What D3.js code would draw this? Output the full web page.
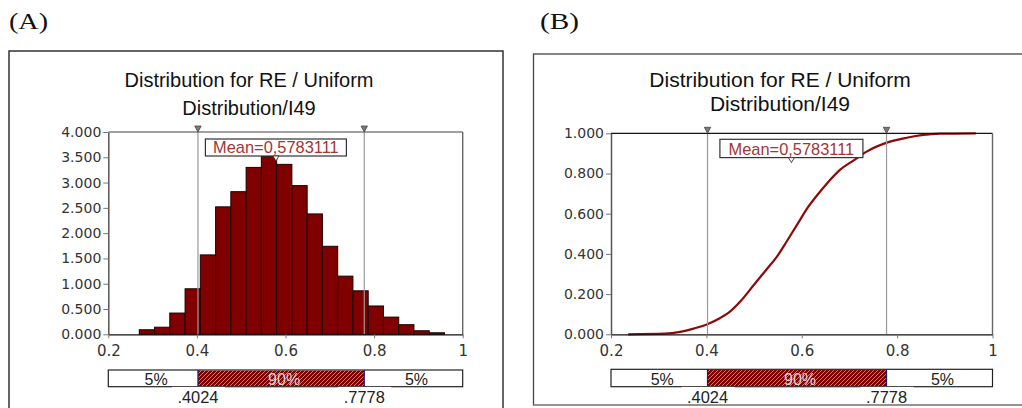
<!DOCTYPE html>
<html>
<head>
<meta charset="utf-8">
<script src="https://cdn.jsdelivr.net/npm/d3@7"></script>
<style>
  html, body { margin: 0; padding: 0; background: #fff; }
  svg { display: block; }
</style>
</head>
<body>
<svg id="chart" width="1022" height="408"></svg>
<script>
// ---- data ----
// histogram bins (lower / upper edges) and density heights
const binLower = [0.2699, 0.3044, 0.3388, 0.3733, 0.4077, 0.4422, 0.4766, 0.5111, 0.5455, 0.5800,
                  0.6144, 0.6489, 0.6833, 0.7178, 0.7522, 0.7867, 0.8211, 0.8556, 0.8900, 0.9245];
const binUpper = [0.3044, 0.3388, 0.3733, 0.4077, 0.4422, 0.4766, 0.5111, 0.5455, 0.5800, 0.6144,
                  0.6489, 0.6833, 0.7178, 0.7522, 0.7867, 0.8211, 0.8556, 0.8900, 0.9245, 0.9589];
const density  = [0.09, 0.14, 0.42, 0.90, 1.57, 2.52, 2.82, 3.30, 3.52, 3.36,
                  2.94, 2.38, 1.74, 1.15, 0.86, 0.56, 0.34, 0.19, 0.07, 0.03];

// cumulative distribution curve
const cdfX = [0.236, 0.313, 0.345, 0.373, 0.402, 0.429, 0.450, 0.471, 0.499, 0.527, 0.548, 0.569,
              0.590, 0.610, 0.631, 0.652, 0.680, 0.708, 0.736, 0.780, 0.820, 0.855, 0.890, 0.965];
const cdfY = [0.000, 0.003, 0.012, 0.028, 0.050, 0.081, 0.114, 0.163, 0.244, 0.325, 0.386, 0.464,
              0.544, 0.622, 0.688, 0.748, 0.818, 0.864, 0.909, 0.955, 0.978, 0.992, 0.998, 1.000];

const meanValue = 0.5783111;
const meanText = "Mean=0,5783111";
const pctLow = 0.4024, pctHigh = 0.7778;
const pctLowLabel = ".4024", pctHighLabel = ".7778";
const bandLabels = ["5%", "90%", "5%"];
const xTicks = [0.2, 0.4, 0.6, 0.8, 1];
const xTickLabels = ["0.2", "0.4", "0.6", "0.8", "1"];
const yTicksA = [0, 0.5, 1, 1.5, 2, 2.5, 3, 3.5, 4];
const yTicksB = [0, 0.2, 0.4, 0.6, 0.8, 1];
const titleLines = ["Distribution for RE / Uniform", "Distribution/I49"];
const panelLabels = ["(A)", "(B)"];

const svg = d3.select("#chart");
const MAROON = "#800000";

// hatch pattern for the 90% band
const defs = svg.append("defs");
const pat = defs.append("pattern")
  .attr("id", "hatch").attr("patternUnits", "userSpaceOnUse")
  .attr("width", 4).attr("height", 4);
pat.append("rect").attr("width", 4).attr("height", 4).attr("fill", MAROON);
pat.append("path").attr("d", "M-1,1 l2,-2 M0,4 l4,-4 M3,5 l2,-2")
  .attr("stroke", "#c9a0a0").attr("stroke-width", 0.8);

// panel frames
svg.append("rect").attr("x", 9).attr("y", 51).attr("width", 494).attr("height", 380)
  .attr("fill", "none").attr("stroke", "#333").attr("stroke-width", 1.5);
svg.append("rect").attr("x", 533.5).attr("y", 54).attr("width", 520).attr("height", 351)
  .attr("fill", "none").attr("stroke", "#444").attr("stroke-width", 1.3);
svg.append("line").attr("x1", 533.5).attr("x2", 1022).attr("y1", 405).attr("y2", 405)
  .attr("stroke", "#999").attr("stroke-width", 1.3);

// panel tags
svg.append("text").attr("x", 9).attr("y", 29).text(panelLabels[0])
  .attr("font-family", "'Liberation Serif', 'DejaVu Serif', serif").attr("font-size", 24)
  .attr("textLength", 39).attr("lengthAdjust", "spacingAndGlyphs").attr("fill", "#111");
svg.append("text").attr("x", 540).attr("y", 29).text(panelLabels[1])
  .attr("font-family", "'Liberation Serif', 'DejaVu Serif', serif").attr("font-size", 24)
  .attr("textLength", 39).attr("lengthAdjust", "spacingAndGlyphs").attr("fill", "#111");

function drawPanel(cfg) {
  const g = svg.append("g");
  const x = d3.scaleLinear().domain([0.2, 1]).range([cfg.x0, cfg.x1]);
  const y = d3.scaleLinear().domain(cfg.yDomain).range([334.3, cfg.yTop]);

  // title
  const t = g.append("g").attr("font-family", "'Liberation Sans', Arial, sans-serif")
    .attr("fill", "#111").attr("text-anchor", "middle");
  t.append("text").attr("x", cfg.titleX).attr("y", cfg.titleY[0]).attr("font-size", cfg.titleSize).text(titleLines[0]);
  t.append("text").attr("x", cfg.titleX).attr("y", cfg.titleY[1]).attr("font-size", cfg.titleSize).text(titleLines[1]);

  // data marks
  cfg.drawMarks(g, x, y);

  // percentile guide lines
  [pctLow, pctHigh].forEach(v => {
    g.append("line").attr("x1", x(v)).attr("x2", x(v)).attr("y1", y.range()[1]).attr("y2", y.range()[0])
      .attr("stroke", "#9a9a9a").attr("stroke-width", 1.2);
  });

  // plot frame (top and right)
  g.append("line").attr("x1", x(0.2)).attr("x2", x(1)).attr("y1", y.range()[1]).attr("y2", y.range()[1])
    .attr("stroke", cfg.topColor).attr("stroke-width", 1.2);
  g.append("line").attr("x1", x(1)).attr("x2", x(1)).attr("y1", y.range()[1]).attr("y2", y.range()[0])
    .attr("stroke", "#666").attr("stroke-width", 1.4);

  // axes
  const yAxis = d3.axisLeft(y).tickValues(cfg.yTicks).tickFormat(d3.format(".3f"))
    .tickSize(5).tickSizeOuter(0).tickPadding(2);
  const ya = g.append("g").attr("transform", `translate(${x(0.2)},0)`).call(yAxis);
  ya.select(".domain").attr("stroke", "#555").attr("stroke-width", 1.5);
  ya.selectAll(".tick line").attr("stroke", "#777");
  ya.selectAll(".tick text").attr("font-family", "'DejaVu Sans', Verdana, sans-serif")
    .attr("font-size", 14).attr("fill", "#333");

  const xAxis = d3.axisBottom(x).tickValues(xTicks).tickFormat((d, i) => xTickLabels[i])
    .tickSize(4).tickSizeOuter(0).tickPadding(7);
  const xa = g.append("g").attr("transform", "translate(0,334.3)").call(xAxis);
  xa.select(".domain").attr("stroke", "#111").attr("stroke-width", 1.2);
  xa.selectAll(".tick line").attr("stroke", "#777");
  xa.selectAll(".tick text").attr("font-family", "'DejaVu Sans', Verdana, sans-serif")
    .attr("font-size", 15).attr("fill", "#333");

  // percentile markers on top edge
  [pctLow, pctHigh].forEach(v => {
    const cx = x(v), ty = y.range()[1];
    g.append("path").attr("d", `M${cx - 3.2},${ty - 6} L${cx + 3.2},${ty - 6} L${cx},${ty} Z`)
      .attr("fill", "#7a7a7a").attr("stroke", "#444").attr("stroke-width", 0.8);
  });

  // mean label
  const mx = x(meanValue);
  g.append("rect").attr("x", mx - cfg.boxW / 2).attr("y", cfg.boxY).attr("width", cfg.boxW).attr("height", cfg.boxH)
    .attr("fill", "#fff").attr("stroke", "#333").attr("stroke-width", 1.2);
  g.append("text").attr("x", mx).attr("y", cfg.boxY + cfg.boxH - 3).attr("text-anchor", "middle")
    .attr("font-family", "'Liberation Sans', Arial, sans-serif").attr("font-size", 16.4)
    .attr("fill", "#a33535").text(meanText);
  const by = cfg.boxY + cfg.boxH;
  g.append("path").attr("d", `M${mx - 3},${by} L${mx + 3},${by} L${mx},${by + 5} Z`)
    .attr("fill", "#fff").attr("stroke", "#333").attr("stroke-width", 0.9);

  // percentile band bar
  const bt = cfg.bandTop, bb = 386.7, bh = bb - bt;
  g.append("rect").attr("x", x(0.2)).attr("y", bt).attr("width", x(1) - x(0.2)).attr("height", bh)
    .attr("fill", "#fff").attr("stroke", "#222").attr("stroke-width", 1.2);
  g.append("rect").attr("x", x(pctLow)).attr("y", bt + 0.6).attr("width", x(pctHigh) - x(pctLow)).attr("height", bh - 1.2)
    .attr("fill", "url(#hatch)");
  [pctLow, pctHigh].forEach(v => {
    g.append("line").attr("x1", x(v)).attr("x2", x(v)).attr("y1", bt).attr("y2", bb)
      .attr("stroke", "#1a1a6a").attr("stroke-width", 1.2);
  });
  const bandCenters = [(0.2 + pctLow) / 2, (pctLow + pctHigh) / 2, (pctHigh + 1) / 2];
  bandCenters.forEach((c, i) => {
    g.append("text").attr("x", x(c) + 3).attr("y", bb - 1.8).attr("text-anchor", "middle")
      .attr("font-family", "'Liberation Sans', Arial, sans-serif").attr("font-size", 16)
      .attr("fill", i === 1 ? "#e4d6d6" : "#222").text(bandLabels[i]);
  });
  [[pctLow, pctLowLabel], [pctHigh, pctHighLabel]].forEach(([v, lab]) => {
    g.append("rect").attr("x", x(v) - 26).attr("y", bb + 0.2).attr("width", 53).attr("height", 17).attr("fill", "#fff");
    g.append("text").attr("x", x(v)).attr("y", 403.3).attr("text-anchor", "middle")
      .attr("font-family", "'Liberation Sans', Arial, sans-serif").attr("font-size", 16.4)
      .attr("fill", "#222").text(lab);
  });
}

// (A) density histogram
drawPanel({
  x0: 108.3, x1: 462.7, yDomain: [0, 4], yTop: 132, yTicks: yTicksA,
  titleX: 249, titleY: [87.3, 115], titleSize: 20, topColor: "#444",
  boxY: 139, boxH: 17, boxW: 141, bandTop: 370,
  drawMarks: (g, x, y) => {
    g.append("g").selectAll("rect").data(density).join("rect")
      .attr("x", (d, i) => x(binLower[i]))
      .attr("width", (d, i) => x(binUpper[i]) - x(binLower[i]))
      .attr("y", d => y(d))
      .attr("height", d => y(0) - y(d))
      .attr("fill", MAROON).attr("stroke", "#1a0000").attr("stroke-width", 1);
  }
});

// (B) cumulative curve
drawPanel({
  x0: 611, x1: 992.5, yDomain: [0, 1], yTop: 133.3, yTicks: yTicksB,
  titleX: 780, titleY: [86.7, 110.7], titleSize: 21, topColor: "#111",
  boxY: 139.3, boxH: 18.3, boxW: 143, bandTop: 369.3,
  drawMarks: (g, x, y) => {
    const pts = cdfX.map((v, i) => [v, cdfY[i]]);
    g.append("path").datum(pts)
      .attr("d", d3.line().x(d => x(d[0])).y(d => y(d[1])).curve(d3.curveMonotoneX))
      .attr("fill", "none").attr("stroke", "#8b0a0a").attr("stroke-width", 2.2);
  }
});
</script>
</body>
</html>
